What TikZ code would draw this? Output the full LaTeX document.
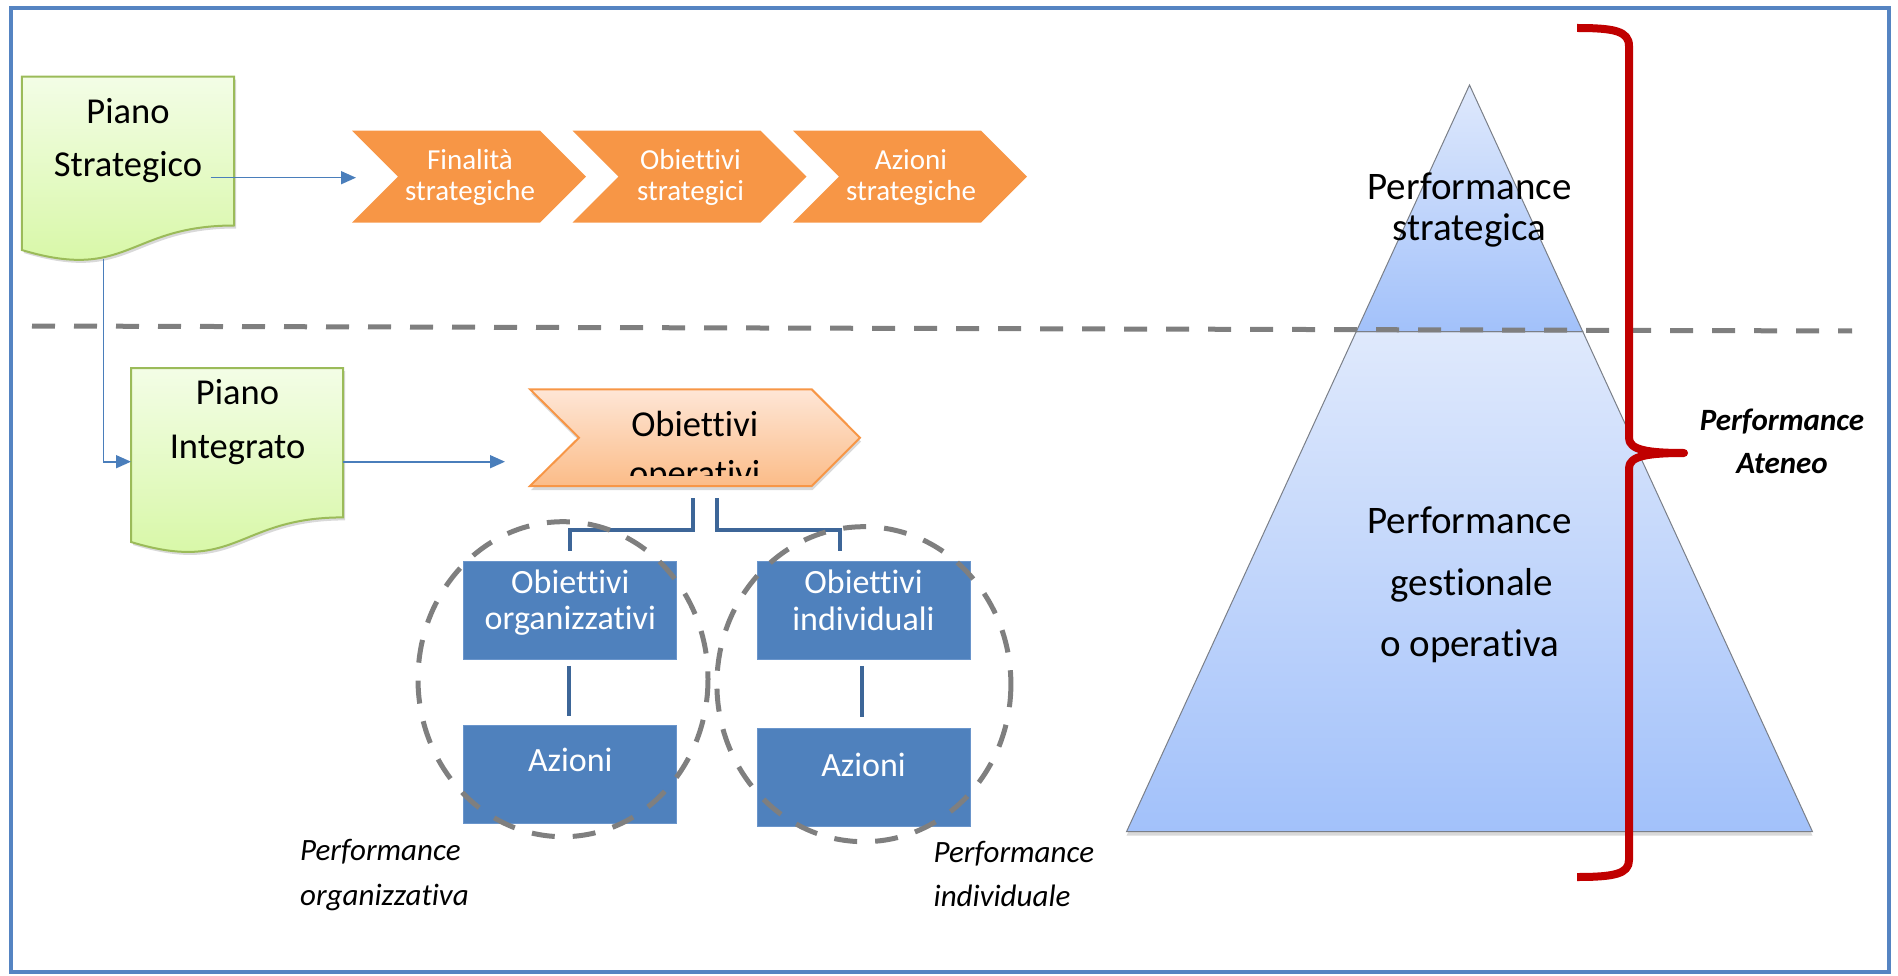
\documentclass[tikz,border=0pt]{standalone}
\usepackage{fontspec}
\setmainfont{Carlito}[Ligatures={NoCommon}]
\usetikzlibrary{arrows.meta,shadows,calc}
\definecolor{frameblue}{HTML}{5584C2}
\definecolor{arrowblue}{HTML}{4A7EBB}
\definecolor{boxblue}{HTML}{4F81BD}
\definecolor{boxedge}{HTML}{6A95CB}
\definecolor{linkblue}{HTML}{3D6698}
\definecolor{chevorange}{HTML}{F79646}
\definecolor{peachtop}{HTML}{FEE6D6}
\definecolor{peachbot}{HTML}{FBBC88}
\definecolor{greentop}{HTML}{F3FDE6}
\definecolor{greenbot}{HTML}{D5F7A1}
\definecolor{greenline}{HTML}{9BBB59}
\definecolor{dashgray}{HTML}{7F7F7F}
\definecolor{pyrtop}{HTML}{DFE9FC}
\definecolor{pyrbot}{HTML}{A2C1FA}
\definecolor{pyredge}{HTML}{7A7F88}
\definecolor{bracered}{HTML}{C00000}
\newcommand{\szDoc}{\fontsize{36.5pt}{44pt}\selectfont}
\newcommand{\szChev}{\fontsize{29pt}{32pt}\selectfont}
\newcommand{\szBx}{\fontsize{34pt}{37pt}\selectfont}
\newcommand{\szLab}{\fontsize{31pt}{45pt}\selectfont\itshape}
\newcommand{\szPyr}{\fontsize{39pt}{45pt}\selectfont}
\newcommand{\szAt}{\fontsize{31pt}{44pt}\selectfont\bfseries\itshape}
\tikzset{
  txt/.style={inner sep=0pt,anchor=base},
  whitetxt/.style={txt,text=white},
  docshape/.style={top color=greentop,bottom color=greenbot,draw=greenline,line width=2pt,
    drop shadow={shadow xshift=2pt,shadow yshift=-3pt,opacity=0.3}},
  flowarrow/.style={draw=arrowblue,line width=1.6pt,-{Triangle[length=15pt,width=13pt]}},
  chev/.style={fill=chevorange},
  opchev/.style={top color=peachtop,bottom color=peachbot,draw=chevorange,line width=2pt,
    drop shadow={shadow xshift=1pt,shadow yshift=-4pt,opacity=0.3}},
  bluebox/.style={rectangle,fill=boxblue,draw=boxedge,line width=1pt,minimum width=213pt,minimum height=97.6pt,inner sep=0pt},
  link/.style={draw=linkblue,line width=4pt},
  dashring/.style={draw=dashgray,line width=5pt,dash pattern=on 23pt off 18pt},
  pyrpart/.style={top color=pyrtop,bottom color=pyrbot,draw=pyredge,line width=1pt},
}
\begin{document}
\begin{tikzpicture}[x=1pt,y=-1pt]
\useasboundingbox (0,0) rectangle (1898,976);
% frame
\draw[frameblue,line width=4.5pt] (11,8) rectangle (1889,972);

% pyramid
\path[pyrpart,drop shadow={shadow xshift=0pt,shadow yshift=-4pt,opacity=0.3}]
  (1356.2,331.7) -- (1582.8,331.7) -- (1812.5,831.7) -- (1126.5,831.7) -- cycle;
\path[pyrpart] (1469.5,85) -- (1582.8,331.7) -- (1356.2,331.7) -- cycle;

% dashed separator
\coordinate (sepL) at (32,326);
\coordinate (sepR) at (1852,331);
\draw[dashgray,line width=5pt,dash pattern=on 23pt off 19pt] (sepL) -- (sepR);

% brace
\draw[bracered,line width=8pt,line join=round]
  (1577,28) .. controls (1614,28) and (1629,31) .. (1629,46) -- (1629,438)
  .. controls (1629,450) and (1648,453) .. (1684,453)
  .. controls (1648,453) and (1629,456) .. (1629,468) -- (1629,860)
  .. controls (1629,874) and (1614,877) .. (1577,877);

% pyramid texts
\node[txt] (ps1) at (1469.5,199.5) {\szPyr Performance};
\node[txt] (ps2) at (1469.5,241) {\szPyr strategica};
\node[txt] (pg1) at (1469.5,533.5) {\szPyr Performance};
\node[txt] (pg2) at (1472,595) {\szPyr gestionale};
\node[txt] (pg3) at (1469.5,656) {\szPyr o operativa};
\node[txt] (pa1) at (1782,430) {\szAt Performance};
\node[txt] (pa2) at (1782,473.3) {\szAt Ateneo};

% Piano Strategico document
\path[docshape] (21.8,76.7) -- (234.2,76.7) -- (234.2,225.5)
  .. controls (128,225.5) and (128,282.1) .. (21.8,250) -- cycle;
\node[txt] (pst1) at (128,123.3) {\szDoc Piano};
\node[txt] (pst2) at (128,176.8) {\szDoc Strategico};

% Piano Integrato document
\path[docshape] (131,368) -- (343,368) -- (343,517.4)
  .. controls (237,517.4) and (237,574.3) .. (131,542) -- cycle;
\node[txt] (pin1) at (237.5,404) {\szDoc Piano};
\node[txt] (pin2) at (237.5,458) {\szDoc Integrato};

% strategic chevrons
\path[chev] (352,130.7) -- (540,130.7) -- (586,176.7) -- (540,222.7) -- (352,222.7) -- (398,176.7) -- cycle;
\path[chev] (572.5,130.7) -- (760.5,130.7) -- (806.5,176.7) -- (760.5,222.7) -- (572.5,222.7) -- (618.5,176.7) -- cycle;
\path[chev] (793,130.7) -- (981,130.7) -- (1027,176.7) -- (981,222.7) -- (793,222.7) -- (839,176.7) -- cycle;
\node[whitetxt] (c1a) at (470,170) {\szChev Finalità};
\node[whitetxt] (c1b) at (470,200.5) {\szChev strategiche};
\node[whitetxt] (c2a) at (690.5,170) {\szChev Obiettivi};
\node[whitetxt] (c2b) at (690.5,200.5) {\szChev strategici};
\node[whitetxt] (c3a) at (911,170) {\szChev Azioni};
\node[whitetxt] (c3b) at (911,200.5) {\szChev strategiche};

% operative chevron
\path[opchev] (530,389.3) -- (811.7,389.3) -- (860,437.7) -- (811.7,486) -- (530,486) -- (579,437.7) -- cycle;
\node[txt] (op1) at (694.7,436.7) {\szDoc Obiettivi};
\begin{scope}
  \clip (520,380) rectangle (870,475);
  \node[txt] (op2) at (694.7,485.3) {\szDoc operativi};
\end{scope}

% arrows
\coordinate (psout) at (210.5,177.7);
\coordinate (finin) at (356,177.7);
\draw[flowarrow] (psout) -- (finin);
\coordinate (psbot) at (103.3,259);
\coordinate (piin) at (131,461.7);
\draw[flowarrow] (psbot) |- (piin);
\coordinate (piout) at (343,461.7);
\coordinate (opin) at (505,461.7);
\draw[flowarrow] (piout) -- (opin);

% blue boxes
\node[bluebox] (obo) at (570.3,610.5) {};
\node[bluebox] (azo) at (570.3,774.5) {};
\node[bluebox] (obi) at (863.5,610.5) {};
\node[bluebox] (azi) at (863.5,777.5) {};
\node[whitetxt] (obo1) at (570.3,593.5) {\szBx Obiettivi};
\node[whitetxt] (obo2) at (570.3,629.5) {\szBx organizzativi};
\node[whitetxt] (obi1) at (863.5,593.5) {\szBx Obiettivi};
\node[whitetxt] (obi2) at (863.5,630) {\szBx individuali};
\node[whitetxt] (azo1) at (570.3,771.7) {\szBx Azioni};
\node[whitetxt] (azi1) at (863.5,776) {\szBx Azioni};

% connectors
\coordinate (opL) at (693,498);
\coordinate (opR) at (717,498);
\coordinate (jL) at (693,530);
\coordinate (jR) at (717,530);
\draw[link] (opL) -- (jL) -| ($(obo.north)+(-0.7,-10)$);
\draw[link] (opR) -- (jR) -| ($(obi.north)+(-23.8,-10)$);
\draw[link] ($(obo.south)+(-1.5,6)$) -- ($(azo.north)+(-1.5,-9)$);
\draw[link] ($(obi.south)+(-2,6)$) -- ($(azi.north)+(-2,-11)$);

% dashed rings
\draw[dashring] (563,679.2) ellipse [x radius=145, y radius=157.5];
\draw[dashring] (863.9,684.2) ellipse [x radius=147, y radius=157.5];

% italic labels
\node[txt,anchor=base west] (lo1) at (300,860.5) {\szLab Performance};
\node[txt,anchor=base west] (lo2) at (300,905) {\szLab organizzativa};
\node[txt,anchor=base west] (li1) at (933.5,862) {\szLab Performance};
\node[txt,anchor=base west] (li2) at (933.5,906) {\szLab individuale};
\end{tikzpicture}
\end{document}
